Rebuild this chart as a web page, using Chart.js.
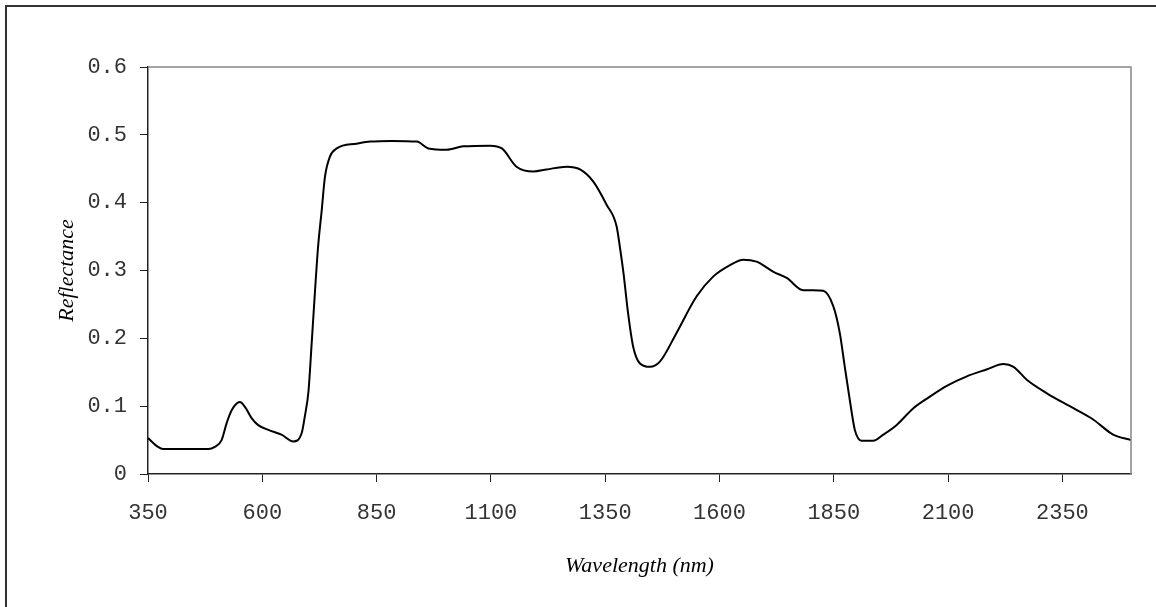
<!DOCTYPE html>
<html>
<head>
<meta charset="utf-8">
<script src="https://cdn.jsdelivr.net/npm/chart.js@4"></script>
<style>
  body { margin: 0; background: #fff; }
  #wrap { position: relative; width: 1156px; height: 607px; overflow: hidden; }
  #frame { position: absolute; left: 5px; top: 5px; width: 1200px; height: 700px; border: 2px solid #333; }
  canvas { position: absolute; left: 0; top: 0; }
</style>
</head>
<body>
<div id="wrap">
  <div id="frame"></div>
  <canvas id="specChart" width="1156" height="607"></canvas>
</div>
<script>
const wavelength = [350, 372, 383, 482, 496, 511, 522, 533, 551, 562,
  577, 591, 613, 642, 668, 686, 693, 701, 708, 715,
  722, 730, 737, 748, 763, 806, 836, 883, 938, 963,
  1003, 1040, 1098, 1124, 1156, 1193, 1222, 1266, 1295, 1324,
  1353, 1375, 1382, 1390, 1400, 1411, 1426, 1448, 1470, 1506,
  1550, 1586, 1623, 1652, 1681, 1718, 1747, 1783, 1805, 1827,
  1849, 1863, 1874, 1885, 1896, 1911, 1936, 1958, 1987, 2024,
  2060, 2097, 2141, 2184, 2221, 2243, 2272, 2316, 2374, 2418,
  2461, 2500];

const reflectance = [0.053, 0.040, 0.037, 0.037, 0.040, 0.050, 0.075, 0.094, 0.106, 0.099,
  0.082, 0.072, 0.065, 0.058, 0.048, 0.060, 0.085, 0.122, 0.193, 0.267,
  0.335, 0.389, 0.438, 0.468, 0.480, 0.487, 0.490, 0.491, 0.490, 0.480,
  0.478, 0.483, 0.484, 0.480, 0.453, 0.446, 0.449, 0.453, 0.449, 0.431,
  0.397, 0.365, 0.335, 0.296, 0.237, 0.188, 0.163, 0.158, 0.166, 0.208,
  0.262, 0.291, 0.308, 0.316, 0.313, 0.298, 0.289, 0.271, 0.271, 0.270,
  0.247, 0.208, 0.158, 0.109, 0.065, 0.049, 0.049, 0.058, 0.072, 0.097,
  0.114, 0.130, 0.144, 0.154, 0.162, 0.158, 0.139, 0.119, 0.097, 0.080,
  0.058, 0.050];

const xTicks = [350, 600, 850, 1100, 1350, 1600, 1850, 2100, 2350];

const tickFont = { family: "'Liberation Mono', 'Courier New', monospace", size: 22 };
const titleFont = { family: "'Liberation Serif', 'Times New Roman', serif", size: 22, style: "italic" };

// gray top/right edge of the plot box
const plotBox = {
  id: "plotBox",
  afterDraw(chart) {
    const a = chart.chartArea;
    const ctx = chart.ctx;
    ctx.save();
    ctx.strokeStyle = "#888";
    ctx.lineWidth = 1.5;
    ctx.beginPath();
    ctx.moveTo(a.left, a.top);
    ctx.lineTo(a.right, a.top);
    ctx.lineTo(a.right, a.bottom);
    ctx.stroke();
    ctx.restore();
  },
};

const dataLine = {
  datasets: [
    {
      label: "Reflectance",
      data: wavelength.map((w, i) => ({ x: w, y: reflectance[i] })),
      borderColor: "#000",
      borderWidth: 2,
      pointRadius: 0,
      cubicInterpolationMode: "monotone",
      fill: false,
    },
  ],
};

const configLine = {
  type: "line",
  data: dataLine,
  plugins: [plotBox],
  options: {
    responsive: false,
    animation: false,
    layout: { padding: { left: 0, top: 67, right: 25, bottom: 0 } },
    scales: {
      x: {
        type: "linear",
        min: 350,
        max: 2500,
        afterBuildTicks: (scale) => {
          scale.ticks = xTicks.map((v) => ({ value: v }));
        },
        afterFit: (scale) => {
          scale.height = 133;
        },
        grid: { drawOnChartArea: false, tickLength: 8, tickColor: "#222" },
        border: { color: "#222", width: 1.5 },
        ticks: {
          color: "#333",
          font: tickFont,
          padding: 18,
          maxRotation: 0,
          autoSkip: false,
          callback: (v) => String(v),
        },
        title: { display: true, text: "Wavelength (nm)", color: "#000", font: titleFont, padding: { top: 0, bottom: 28 } },
      },
      y: {
        min: 0,
        max: 0.6,
        afterFit: (scale) => {
          scale.width = 148;
        },
        grid: { drawOnChartArea: false, tickLength: 8, tickColor: "#222" },
        border: { color: "#222", width: 1.5 },
        ticks: {
          stepSize: 0.1,
          color: "#333",
          font: tickFont,
          padding: 13,
          callback: (v) => (v === 0 ? "0" : v.toFixed(1)),
        },
        title: { display: true, text: "Reflectance", color: "#000", font: titleFont, padding: { top: 54, bottom: 0 } },
      },
    },
    plugins: {
      legend: { display: false },
      tooltip: { enabled: false },
    },
  },
};

var myLineChart = new Chart(document.getElementById("specChart"), configLine);
</script>
</body>
</html>
